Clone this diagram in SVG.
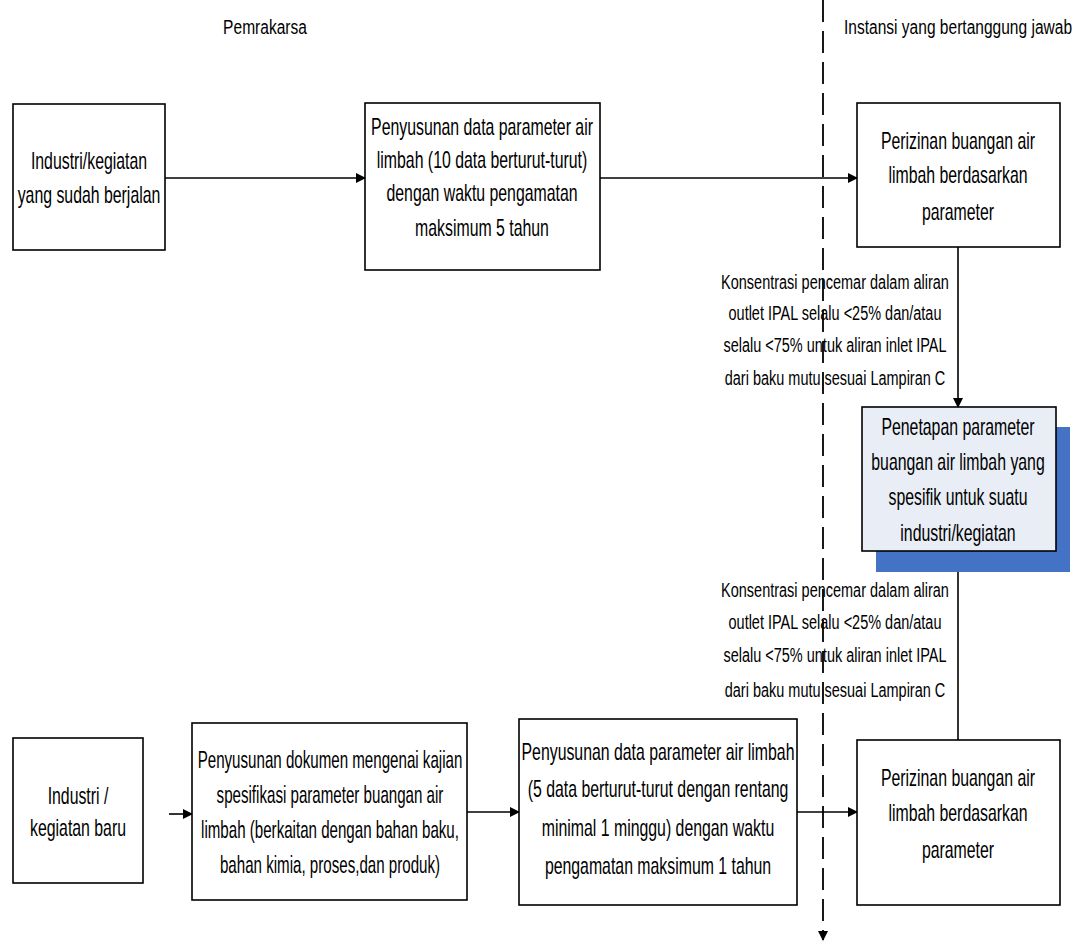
<svg xmlns="http://www.w3.org/2000/svg" width="1082" height="945" viewBox="0 0 1082 945">
<style>
text{font-family:"Liberation Sans",Arial,sans-serif;font-size:24px;fill:#000;text-anchor:middle}
text.lbl{font-size:21px}
text.hdr{font-size:21px}
.box{fill:#fff;stroke:#000;stroke-width:1.6}
.hl{fill:#E9EEF6;stroke:#000;stroke-width:1.6}
.conn{fill:none;stroke:#000;stroke-width:1.6}
.dash{fill:none;stroke:#000;stroke-width:1.8;stroke-dasharray:22 9}
</style>
<defs>
<marker id="ah" markerWidth="10" markerHeight="10" refX="9" refY="5" orient="auto" markerUnits="userSpaceOnUse">
<path d="M0,0 L10,5 L0,10 z" fill="#000"/>
</marker>
</defs>
<rect width="1082" height="945" fill="#fff"/>
<g id="headers">
<text class="hdr" transform="translate(265,34) scale(0.74,1)">Pemrakarsa</text>
<text class="hdr" transform="translate(958,34) scale(0.74,1)">Instansi yang bertanggung jawab</text>
</g>
<g id="connectors">
<line class="dash" x1="823" y1="0" x2="823" y2="940" marker-end="url(#ah)"/>
<line class="conn" x1="165" y1="178" x2="365" y2="178" marker-end="url(#ah)"/>
<line class="conn" x1="600" y1="178" x2="857" y2="178" marker-end="url(#ah)"/>
<line class="conn" x1="958" y1="247" x2="958" y2="407" marker-end="url(#ah)"/>
<line class="conn" x1="958" y1="740" x2="958" y2="551" marker-end="url(#ah)"/>
<line class="conn" x1="169" y1="814" x2="192" y2="814" marker-end="url(#ah)"/>
<line class="conn" x1="467" y1="812" x2="519" y2="812" marker-end="url(#ah)"/>
<line class="conn" x1="797" y1="812" x2="857" y2="812" marker-end="url(#ah)"/>
<g id="label1">
<text class="lbl" transform="translate(835,289) scale(0.69,1)">Konsentrasi pencemar dalam aliran</text>
<text class="lbl" transform="translate(835,320) scale(0.69,1)">outlet IPAL selalu &lt;25% dan/atau</text>
<text class="lbl" transform="translate(835,352) scale(0.69,1)">selalu &lt;75% untuk aliran inlet IPAL</text>
<text class="lbl" transform="translate(835,385) scale(0.69,1)">dari baku mutu sesuai Lampiran C</text>
</g>
<g id="label2">
<text class="lbl" transform="translate(835,597) scale(0.69,1)">Konsentrasi pencemar dalam aliran</text>
<text class="lbl" transform="translate(835,629) scale(0.69,1)">outlet IPAL selalu &lt;25% dan/atau</text>
<text class="lbl" transform="translate(835,662) scale(0.69,1)">selalu &lt;75% untuk aliran inlet IPAL</text>
<text class="lbl" transform="translate(835,697) scale(0.69,1)">dari baku mutu sesuai Lampiran C</text>
</g>
</g>
<g id="nodeA">
<rect class="box" x="13" y="104" width="152" height="146"/>
<text transform="translate(89,169) scale(0.66,1)">Industri/kegiatan</text>
<text transform="translate(89,203) scale(0.66,1)">yang sudah berjalan</text>
</g>
<g id="nodeB">
<rect class="box" x="365" y="103" width="235" height="167"/>
<text transform="translate(482,135) scale(0.66,1)">Penyusunan data parameter air</text>
<text transform="translate(482,168) scale(0.66,1)">limbah (10 data berturut-turut)</text>
<text transform="translate(482,201) scale(0.66,1)">dengan waktu pengamatan</text>
<text transform="translate(482,236) scale(0.66,1)">maksimum 5 tahun</text>
</g>
<g id="nodeC">
<rect class="box" x="857" y="103" width="203" height="144"/>
<text transform="translate(958,149) scale(0.66,1)">Perizinan buangan air</text>
<text transform="translate(958,183) scale(0.66,1)">limbah berdasarkan</text>
<text transform="translate(958,220) scale(0.66,1)">parameter</text>
</g>
<g id="nodeD">
<rect x="876" y="427" width="194" height="145" fill="#4472C4"/>
<rect class="hl" x="862" y="407" width="194" height="144"/>
<text transform="translate(958,435) scale(0.66,1)">Penetapan parameter</text>
<text transform="translate(958,470) scale(0.66,1)">buangan air limbah yang</text>
<text transform="translate(958,505) scale(0.66,1)">spesifik untuk suatu</text>
<text transform="translate(958,541) scale(0.66,1)">industri/kegiatan</text>
</g>
<g id="nodeF">
<rect class="box" x="13" y="738" width="130" height="145"/>
<text transform="translate(78,804) scale(0.66,1)">Industri /</text>
<text transform="translate(78,836) scale(0.66,1)">kegiatan baru</text>
</g>
<g id="nodeG">
<rect class="box" x="192" y="723" width="275" height="177"/>
<text transform="translate(330,768) scale(0.63,1)">Penyusunan dokumen mengenai kajian</text>
<text transform="translate(330,803) scale(0.63,1)">spesifikasi parameter buangan air</text>
<text transform="translate(330,838) scale(0.63,1)">limbah (berkaitan dengan bahan baku,</text>
<text transform="translate(330,873) scale(0.63,1)">bahan kimia, proses,dan produk)</text>
</g>
<g id="nodeH">
<rect class="box" x="519" y="719" width="278" height="186"/>
<text transform="translate(658,760) scale(0.66,1)">Penyusunan data parameter air limbah</text>
<text transform="translate(658,797) scale(0.66,1)">(5 data berturut-turut dengan rentang</text>
<text transform="translate(658,836) scale(0.66,1)">minimal 1 minggu) dengan waktu</text>
<text transform="translate(658,874) scale(0.66,1)">pengamatan maksimum 1 tahun</text>
</g>
<g id="nodeE">
<rect class="box" x="857" y="740" width="203" height="165"/>
<text transform="translate(958,786) scale(0.66,1)">Perizinan buangan air</text>
<text transform="translate(958,821) scale(0.66,1)">limbah berdasarkan</text>
<text transform="translate(958,858) scale(0.66,1)">parameter</text>
</g>
</svg>
